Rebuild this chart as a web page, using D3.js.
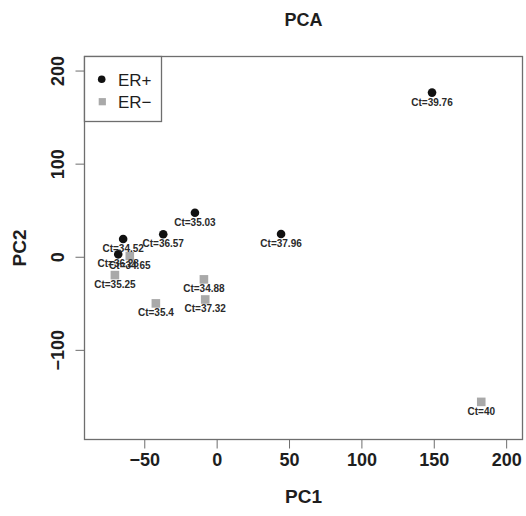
<!DOCTYPE html>
<html>
<head>
<meta charset="utf-8">
<script src="https://cdn.jsdelivr.net/npm/d3@7"></script>
<style>
  html, body { margin: 0; padding: 0; background: #fff; }
  svg { display: block; }
  text { font-family: "Liberation Sans", Arial, Helvetica, sans-serif; }
</style>
</head>
<body>
<svg id="chart" width="526" height="516"></svg>
<script>
// ---- data ----
const erPosPC1 = [148.8, 44.5, -15.0, -36.9, -64.6, -68.0];
const erPosPC2 = [176.3, 24.4, 47.3, 24.1, 19.0, 2.6];
const erPosCt  = ["39.76", "37.96", "35.03", "36.57", "34.52", "36.28"];

const erNegPC1 = [-60.0, -70.3, -42.0, -8.8, -7.9, 182.8];
const erNegPC2 = [0.8, -19.7, -50.1, -24.3, -45.9, -155.9];
const erNegCt  = ["34.65", "35.25", "35.4", "34.88", "37.32", "40"];

const xTicks = [-50, 0, 50, 100, 150, 200];
const yTicks = [-100, 0, 100, 200];
const legendLabels = ["ER+", "ER\u2212"];

// ---- layout ----
const svg = d3.select("#chart");
const L = 84.5, R = 522.5, T = 56.5, B = 439.5;
const x = d3.scaleLinear().domain([-91.3, 211.3]).range([L, R]);
const y = d3.scaleLinear().domain([-196.3, 215.1]).range([B, T]);
const boxCol = "#6e6e6e";
const txtCol = "#1e1e1e";

// axes
const xAxis = svg.append("g").attr("transform", `translate(0,${B})`)
  .call(d3.axisBottom(x).tickValues(xTicks).tickSize(9).tickPadding(5)
    .tickFormat(d => d < 0 ? "\u2212" + Math.abs(d) : d));
xAxis.select(".domain").remove();
xAxis.selectAll("line").attr("stroke", boxCol).attr("stroke-width", 1);
xAxis.selectAll("text").attr("fill", txtCol).attr("font-size", 18).attr("font-weight", "bold")
  .attr("font-family", "Liberation Sans, Arial, sans-serif");

const yAxis = svg.append("g").attr("transform", `translate(${L},0)`)
  .call(d3.axisLeft(y).tickValues(yTicks).tickSize(9)
    .tickFormat(d => d < 0 ? "\u2212" + Math.abs(d) : d));
yAxis.select(".domain").remove();
yAxis.selectAll("line").attr("stroke", boxCol).attr("stroke-width", 1);
yAxis.selectAll("text")
  .attr("fill", txtCol).attr("font-size", 18).attr("font-weight", "bold")
  .attr("font-family", "Liberation Sans, Arial, sans-serif")
  .attr("x", null).attr("dy", null)
  .attr("text-anchor", "middle")
  .attr("transform", "translate(-21,0) rotate(-90)");

// plot box
svg.append("rect").attr("x", L).attr("y", T).attr("width", R - L).attr("height", B - T)
  .attr("fill", "none").attr("stroke", boxCol).attr("stroke-width", 1.3);

// titles
svg.append("text").attr("x", (L + R) / 2).attr("y", 26).attr("text-anchor", "middle")
  .attr("font-size", 18).attr("font-weight", "bold").attr("fill", txtCol).text("PCA");
svg.append("text").attr("x", (L + R) / 2).attr("y", 503).attr("text-anchor", "middle")
  .attr("font-size", 19).attr("font-weight", "bold").attr("fill", txtCol).text("PC1");
svg.append("text").attr("transform", `translate(26,${(T + B) / 2}) rotate(-90)`)
  .attr("text-anchor", "middle")
  .attr("font-size", 19).attr("font-weight", "bold").attr("fill", txtCol).text("PC2");

// points
const pos = erPosPC1.map((v, i) => ({ x: v, y: erPosPC2[i], ct: erPosCt[i] }));
const neg = erNegPC1.map((v, i) => ({ x: v, y: erNegPC2[i], ct: erNegCt[i] }));
const sq = 8.6;

svg.append("g").selectAll("circle").data(pos).enter().append("circle")
  .attr("cx", d => x(d.x)).attr("cy", d => y(d.y)).attr("r", 4.3).attr("fill", "#111");
svg.append("g").selectAll("rect").data(neg).enter().append("rect")
  .attr("x", d => x(d.x) - sq / 2).attr("y", d => y(d.y) - sq / 2)
  .attr("width", sq).attr("height", sq).attr("fill", "#a9a9a9");

// labels
svg.append("g").selectAll("text").data(pos.concat(neg)).enter().append("text")
  .attr("x", d => x(d.x)).attr("y", d => y(d.y) + 13)
  .attr("text-anchor", "middle").attr("font-size", 10).attr("font-weight", "bold")
  .attr("fill", "#2a2a2a").text(d => "Ct=" + d.ct);

// legend
const lg = svg.append("g");
lg.append("rect").attr("x", L).attr("y", T).attr("width", 77).attr("height", 65)
  .attr("fill", "#fff").attr("stroke", boxCol).attr("stroke-width", 1.3);
lg.append("circle").attr("cx", 101.7).attr("cy", 79.3).attr("r", 3.8).attr("fill", "#111");
lg.append("rect").attr("x", 102.3 - 3.6).attr("y", 101.7 - 3.6).attr("width", 7.2).attr("height", 7.2)
  .attr("fill", "#a9a9a9");
lg.selectAll("text.lg").data(legendLabels).enter().append("text")
  .attr("x", 118).attr("y", (d, i) => 85.5 + i * 22.4)
  .attr("font-size", 17).attr("fill", txtCol).text(d => d);
</script>
</body>
</html>
